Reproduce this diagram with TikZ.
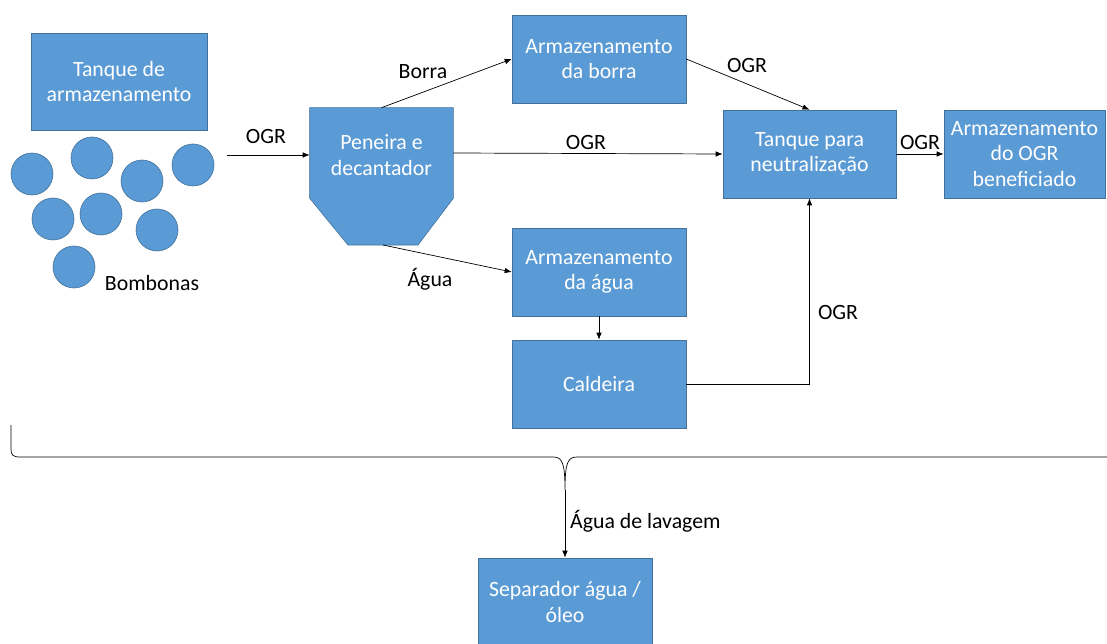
\documentclass[tikz,border=0pt]{standalone}
\usepackage{fontspec}
\setmainfont{Carlito}
\usetikzlibrary{arrows.meta}
\definecolor{boxblue}{HTML}{5B9BD5}
\definecolor{boxedge}{HTML}{41719C}
\begin{document}
\begin{tikzpicture}[x=1pt,y=-1pt,
  bx/.style={rectangle,fill=boxblue,draw=boxedge,line width=0.6pt,text=white,align=center,inner sep=0pt,font=\fontsize{21.8}{25.5}\selectfont},
  lbl/.style={font=\fontsize{21.8}{25}\selectfont,text=black,inner sep=1pt},
  arr/.style={line width=0.7pt,-{Latex[length=7pt,width=5.5pt]}},
  bomb/.style={circle,fill=boxblue,draw=boxedge,line width=0.6pt,minimum size=42pt,inner sep=0pt}]
\useasboundingbox (0,0) rectangle (1107,644);
% boxes
\node[bx,minimum width=176pt,minimum height=97pt] (tank) at (119,81.5) {Tanque de\\armazenamento};
\node[bx,minimum width=174pt,minimum height=88pt] (borra) at (599,59) {Armazenamento\\da borra};
\node[bx,minimum width=173pt,minimum height=88pt] (neu) at (809.5,154) {Tanque para\\neutralização};
\node[bx,minimum width=161pt,minimum height=88pt] (ben) at (1024.5,154) {Armazenamento\\do OGR\\beneficiado};
\node[bx,minimum width=174pt,minimum height=88pt] (agua) at (599,272) {Armazenamento\\da água};
\node[bx,minimum width=174pt,minimum height=88pt] (cald) at (599,384) {Caldeira};
\node[bx,minimum width=174pt,minimum height=88pt] (sep) at (565,602) {Separador água /\\óleo};
% peneira
\node[bx,draw=none,fill=none,minimum width=143pt,minimum height=90pt] (pen) at (381.5,153) {};
\coordinate (penbot) at (383,245);
\fill[boxblue,draw=boxedge,line width=0.6pt] (pen.north west) -- (pen.north east) -- (pen.south east) -- (418,245) -- (348,245) -- (pen.south west) -- cycle;
\node[bx,draw=none,fill=none] (pentxt) at (381.5,155) {Peneira e\\decantador};
% bombonas
\node[bomb] (b1) at (32,174) {};
\node[bomb] (b2) at (92,158) {};
\node[bomb] (b3) at (142,181) {};
\node[bomb] (b4) at (193,165) {};
\node[bomb] (b5) at (53,219) {};
\node[bomb] (b6) at (101,214) {};
\node[bomb] (b7) at (157,230) {};
\node[bomb] (b8) at (74,267) {};
\node[lbl] (bomtxt) at (152,283) {Bombonas};
% connectors
\coordinate (src) at (227,155);
\draw[arr] (src) -- (pen.west |- src);
\node[lbl] (l1) at (266,137) {OGR};
\draw[arr] (pen.north) -- (borra.west);
\node[lbl] (l2) at (423,72) {Borra};
\draw[arr] (pen.east) -- (neu.west);
\node[lbl] (l3) at (586,143) {OGR};
\draw[arr] (penbot) -- (agua.west);
\node[lbl] (l4) at (430,279) {Água};
\draw[arr] (borra.east) -- (neu.north);
\node[lbl] (l5) at (747,66) {OGR};
\draw[arr] (neu.east) -- (ben.west);
\node[lbl] (l6) at (920,143) {OGR};
\draw[arr] (agua.south) -- (cald.north);
\draw[arr] (cald.east) -| (neu.south);
\node[lbl] (l7) at (838,313) {OGR};
% brace
\coordinate (tip) at (565,490);
\draw[line width=0.7pt] (11,425) -- (11,449) .. controls (11,455) and (13,457) .. (20,457) -- (553,457)
  .. controls (562,457) and (565,462) .. (tip) .. controls (565,462) and (568,457) .. (577,457) -- (1107,457);
\draw[arr] (tip) -- (sep.north);
\node[lbl,anchor=west] (l8) at (569,521) {Água de lavagem};
\end{tikzpicture}
\end{document}
